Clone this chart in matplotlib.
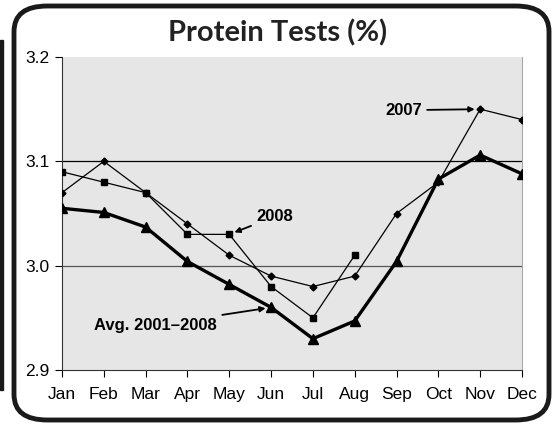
import matplotlib.pyplot as plt
from matplotlib.patches import FancyBboxPatch, Rectangle

months = ['Jan', 'Feb', 'Mar', 'Apr', 'May', 'Jun',
          'Jul', 'Aug', 'Sep', 'Oct', 'Nov', 'Dec']
y2007 = [3.07, 3.10, 3.07, 3.04, 3.01, 2.99, 2.98, 2.99, 3.05, 3.08, 3.15, 3.14]
y2008 = [3.09, 3.08, 3.07, 3.03, 3.03, 2.98, 2.95, 3.01]
yavg = [3.055, 3.051, 3.037, 3.004, 2.982, 2.960, 2.930, 2.947, 3.004, 3.083, 3.106, 3.088]
yticks = [2.9, 3.0, 3.1, 3.2]

plt.rcParams['font.family'] = ['Liberation Sans', 'DejaVu Sans']

fig = plt.figure(figsize=(5.56, 4.25), dpi=100)

# rounded frame and left bar
frame = FancyBboxPatch((14 / 556, 5 / 425), 535 / 556, 414 / 425,
                       boxstyle='round,pad=0,rounding_size=0.06',
                       transform=fig.transFigure, fill=False,
                       edgecolor='#1a1a1a', linewidth=3.5)
fig.patches.append(frame)
fig.patches.append(Rectangle((0, 35 / 425), 3 / 556, 350 / 425,
                             transform=fig.transFigure, color='#1a1a1a'))

ax = fig.add_axes([62 / 556, 55 / 425, 460 / 556, 313 / 425])
ax.set_facecolor('#e6e6e6')
x = list(range(len(months)))

ax.axhline(3.1, color='black', linewidth=0.9, zorder=1)
ax.axhline(3.0, color='#555555', linewidth=0.9, zorder=1)

ax.plot(x, y2007, color='black', linewidth=0.9, marker='D', markersize=3.5, zorder=3)
ax.plot(x[:len(y2008)], y2008, color='black', linewidth=0.9, marker='s', markersize=5, zorder=3)
ax.plot(x, yavg, color='black', linewidth=2.4, marker='^', markersize=7, zorder=4)

ax.set_xlim(0, 11)
ax.set_ylim(2.9, 3.2)
ax.set_yticks(yticks)
ax.set_yticklabels(['2.9', '3.0', '3.1', '3.2'])
ax.set_xticks(x)
ax.set_xticklabels(months)
ax.tick_params(axis='both', labelsize=12.5, direction='out', length=5, width=0.8)
ax.tick_params(axis='x', pad=7)
ax.tick_params(axis='y', pad=4)
ax.spines['top'].set_visible(False)
ax.spines['right'].set_color('#aaaaaa')
ax.spines['right'].set_linewidth(0.8)
for s in ['left', 'bottom']:
    ax.spines[s].set_color('#333333')
    ax.spines[s].set_linewidth(0.8)

arrow = dict(arrowstyle='-|>', color='black', linewidth=1.3, mutation_scale=8,
             shrinkA=2, shrinkB=4)
ax.annotate('2007', xy=(10, 3.15), xytext=(8.6, 3.149), fontsize=12,
            fontweight='bold', ha='right', va='center', arrowprops=arrow)
ax.annotate('2008', xy=(4, 3.03), xytext=(4.65, 3.047), fontsize=12,
            fontweight='bold', ha='left', va='center', arrowprops=arrow)
ax.annotate('Avg. 2001\u20132008', xy=(5, 2.96), xytext=(3.7, 2.943), fontsize=12,
            fontweight='bold', ha='right', va='center', arrowprops=arrow)

fig.text(0.5, 1 - 33 / 425, 'Protein Tests (%)', ha='center', va='center',
         fontsize=21, fontweight='bold', family=['Lato', 'DejaVu Sans'], color='#222222')

fig.savefig('out.png', dpi=100)
